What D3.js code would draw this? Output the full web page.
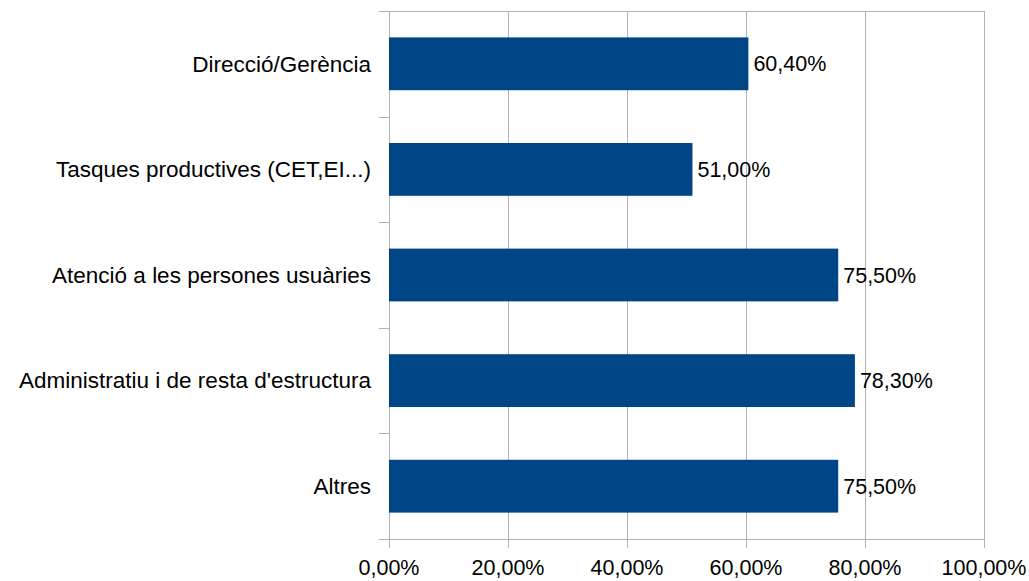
<!DOCTYPE html>
<html>
<head>
<meta charset="utf-8">
<script src="https://cdn.jsdelivr.net/npm/d3@7"></script>
<style>
  body { margin: 0; background: #fff; }
  text { font-family: "Liberation Sans", Arial, sans-serif; fill: #000; }
</style>
</head>
<body>
<svg width="1029" height="581"></svg>
<script>
"use strict"

let categories = ["Direcció/Gerència", "Tasques productives (CET,EI...)", "Atenció a les persones usuàries", "Administratiu i de resta d'estructura", "Altres"]
let values = [0.604, 0.51, 0.755, 0.783, 0.755]
let ticks = [0, 0.2, 0.4, 0.6, 0.8, 1]

let svg = d3.select("svg")
let margin = {top: 11, right: 45, bottom: 42, left: 389}
let width = 1029 - margin.left - margin.right
let height = 581 - margin.top - margin.bottom

let fmt = v => d3.format(".2f")(v * 100).replace(".", ",") + "%"

let x = d3.scaleLinear().domain([0, 1]).range([0, width])
let y = d3.scaleBand().domain(categories).range([0, height]).paddingInner(0.5).paddingOuter(0.25)
let yb = d3.scaleBand().domain(categories).range([0, height])

let g = svg.append("g")
  .attr("transform", "translate(" + margin.left + "," + margin.top + ")")

/* grid */
g.append("g")
  .selectAll("line")
  .data(ticks)
  .enter()
  .append("line")
  .attr("x1", d => x(d) + 0.5).attr("x2", d => x(d) + 0.5)
  .attr("y1", 0).attr("y2", height + 9)
  .attr("stroke", "#b3b3b3")
  .attr("stroke-width", 1)

g.append("line")
  .attr("x1", 0).attr("x2", width)
  .attr("y1", 0.5).attr("y2", 0.5)
  .attr("stroke", "#b3b3b3")

/* axes lines */
g.append("line")
  .attr("x1", -10).attr("x2", width + 0.5)
  .attr("y1", height + 0.5).attr("y2", height + 0.5)
  .attr("stroke", "#b3b3b3")

let bounds = categories.map(c => yb(c)).concat([height])
g.append("g")
  .selectAll("line")
  .data(bounds)
  .enter()
  .append("line")
  .attr("x1", -10).attr("x2", 0)
  .attr("y1", d => Math.round(d) + 0.5).attr("y2", d => Math.round(d) + 0.5)
  .attr("stroke", "#b3b3b3")

/* bars */
g.append("g")
  .selectAll("rect")
  .data(values)
  .enter()
  .append("rect")
  .attr("x", 0)
  .attr("y", (d, i) => y(categories[i]))
  .attr("width", d => x(d))
  .attr("height", y.bandwidth())
  .attr("fill", "#004586")

/* value labels */
g.append("g")
  .selectAll("text")
  .data(values)
  .enter()
  .append("text")
  .attr("x", d => x(d) + 5)
  .attr("y", (d, i) => y(categories[i]) + y.bandwidth() / 2)
  .attr("dy", "0.35em")
  .attr("font-size", 21.5)
  .text(d => fmt(d))

/* category labels */
g.append("g")
  .selectAll("text")
  .data(categories)
  .enter()
  .append("text")
  .attr("x", -18)
  .attr("y", d => y(d) + y.bandwidth() / 2)
  .attr("dy", "0.35em")
  .attr("text-anchor", "end")
  .attr("font-size", 22.5)
  .text(d => d)

/* x tick labels */
g.append("g")
  .selectAll("text")
  .data(ticks)
  .enter()
  .append("text")
  .attr("x", d => x(d))
  .attr("y", height + 28)
  .attr("dy", "0.35em")
  .attr("text-anchor", "middle")
  .attr("font-size", 21.5)
  .text(d => fmt(d))
</script>
</body>
</html>
